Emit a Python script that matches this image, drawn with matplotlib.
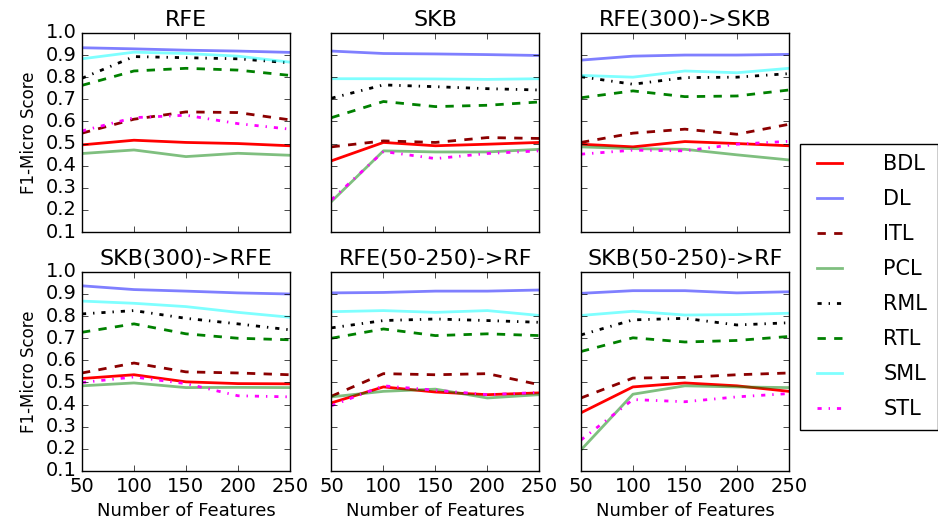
import matplotlib
matplotlib.use("Agg")
import matplotlib.pyplot as plt

plt.style.use('classic')

features = [50, 100, 150, 200, 250]
panels = ["RFE", "SKB", "RFE(300)->SKB", "SKB(300)->RFE", "RFE(50-250)->RF", "SKB(50-250)->RF"]
methods = ["BDL", "DL", "ITL", "PCL", "RML", "RTL", "SML", "STL"]

# scores per panel, per method
rfe = {
    "BDL": [0.494, 0.515, 0.505, 0.500, 0.490],
    "DL":  [0.933, 0.928, 0.922, 0.918, 0.912],
    "ITL": [0.547, 0.610, 0.643, 0.640, 0.607],
    "PCL": [0.455, 0.471, 0.441, 0.456, 0.447],
    "RML": [0.795, 0.893, 0.888, 0.883, 0.865],
    "RTL": [0.763, 0.828, 0.840, 0.832, 0.808],
    "SML": [0.883, 0.913, 0.907, 0.895, 0.868],
    "STL": [0.557, 0.617, 0.628, 0.590, 0.565],
}
skb = {
    "BDL": [0.422, 0.505, 0.490, 0.497, 0.505],
    "DL":  [0.918, 0.907, 0.905, 0.902, 0.898],
    "ITL": [0.485, 0.512, 0.505, 0.527, 0.523],
    "PCL": [0.238, 0.467, 0.462, 0.462, 0.474],
    "RML": [0.705, 0.765, 0.757, 0.748, 0.742],
    "RTL": [0.617, 0.690, 0.667, 0.673, 0.688],
    "SML": [0.793, 0.793, 0.792, 0.790, 0.793],
    "STL": [0.246, 0.464, 0.432, 0.455, 0.467],
}
rfe300_skb = {
    "BDL": [0.497, 0.485, 0.509, 0.500, 0.490],
    "DL":  [0.877, 0.895, 0.900, 0.900, 0.903],
    "ITL": [0.505, 0.547, 0.565, 0.542, 0.587],
    "PCL": [0.485, 0.477, 0.474, 0.449, 0.426],
    "RML": [0.802, 0.768, 0.798, 0.800, 0.816],
    "RTL": [0.707, 0.738, 0.712, 0.715, 0.742],
    "SML": [0.808, 0.800, 0.828, 0.820, 0.840],
    "STL": [0.452, 0.470, 0.467, 0.497, 0.510],
}
skb300_rfe = {
    "BDL": [0.518, 0.535, 0.503, 0.495, 0.494],
    "DL":  [0.937, 0.920, 0.913, 0.905, 0.900],
    "ITL": [0.543, 0.588, 0.548, 0.543, 0.535],
    "PCL": [0.485, 0.498, 0.477, 0.478, 0.477],
    "RML": [0.810, 0.825, 0.790, 0.765, 0.738],
    "RTL": [0.727, 0.765, 0.720, 0.700, 0.693],
    "SML": [0.868, 0.858, 0.843, 0.817, 0.795],
    "STL": [0.500, 0.525, 0.495, 0.440, 0.435],
}
rfe_rf = {
    "BDL": [0.408, 0.480, 0.457, 0.445, 0.453],
    "DL":  [0.905, 0.907, 0.913, 0.913, 0.918],
    "ITL": [0.438, 0.540, 0.535, 0.540, 0.490],
    "PCL": [0.435, 0.460, 0.470, 0.430, 0.445],
    "RML": [0.747, 0.780, 0.787, 0.780, 0.772],
    "RTL": [0.700, 0.742, 0.712, 0.720, 0.712],
    "SML": [0.820, 0.825, 0.817, 0.825, 0.803],
    "STL": [0.395, 0.485, 0.465, 0.445, 0.455],
}
skb_rf = {
    "BDL": [0.363, 0.480, 0.498, 0.485, 0.460],
    "DL":  [0.903, 0.915, 0.915, 0.905, 0.910],
    "ITL": [0.430, 0.520, 0.523, 0.535, 0.543],
    "PCL": [0.195, 0.447, 0.485, 0.480, 0.477],
    "RML": [0.715, 0.783, 0.790, 0.760, 0.770],
    "RTL": [0.640, 0.702, 0.683, 0.690, 0.708],
    "SML": [0.803, 0.822, 0.805, 0.807, 0.813],
    "STL": [0.240, 0.423, 0.413, 0.435, 0.450],
}
all_scores = [rfe, skb, rfe300_skb, skb300_rfe, rfe_rf, skb_rf]

# line styles
styles = {
    "BDL": dict(color="red", ls="-"),
    "DL":  dict(color="blue", ls="-", alpha=0.5),
    "ITL": dict(color="darkred", ls="--"),
    "PCL": dict(color="green", ls="-", alpha=0.5),
    "RML": dict(color="black", ls="-."),
    "RTL": dict(color="green", ls="--"),
    "SML": dict(color="cyan", ls="-", alpha=0.5),
    "STL": dict(color="magenta", ls="-."),
}

fig, axes = plt.subplots(2, 3, figsize=(9.38, 5.31), dpi=100, facecolor="white")
fig.subplots_adjust(left=0.0874, right=0.841, top=0.938, bottom=0.113, wspace=0.2, hspace=0.2)

for i, ax in enumerate(axes.flat):
    scores = all_scores[i]
    for m in methods:
        ax.plot(features, scores[m], lw=2, label=m, **styles[m])
    ax.set_title(panels[i], fontsize=16)
    ax.set_xlim(50, 250)
    ax.set_ylim(0.1, 1.0)
    ax.set_xticks(features)
    ax.set_yticks([0.1, 0.2, 0.3, 0.4, 0.5, 0.6, 0.7, 0.8, 0.9, 1.0])
    ax.tick_params(labelsize=14)
    if i % 3 == 0:
        ax.set_ylabel("F1-Micro Score", fontsize=12)
    else:
        ax.set_yticklabels([])
    if i < 3:
        ax.set_xticklabels([])
    else:
        ax.set_xlabel("Number of Features", fontsize=13)

handles, labels = axes[0, 0].get_legend_handles_labels()
fig.legend(handles, labels, loc="upper left", bbox_to_anchor=(0.853, 0.729),
           borderaxespad=0, fontsize=15, frameon=True, fancybox=False,
           handlelength=1.8, handletextpad=1.7, labelspacing=0.72, borderpad=0.5)

plt.savefig("out.png", dpi=100, facecolor="white")
